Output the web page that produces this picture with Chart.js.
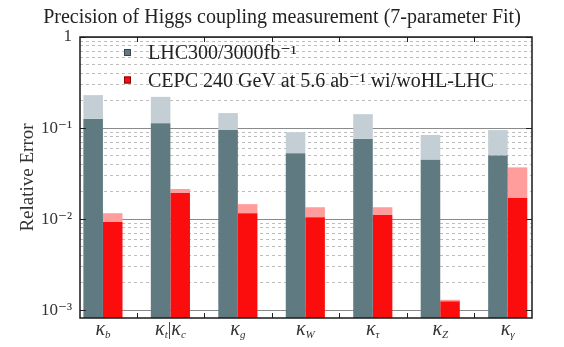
<!DOCTYPE html>
<html>
<head>
<meta charset="utf-8">
<script src="https://cdn.jsdelivr.net/npm/chart.js@4.4.0/dist/chart.umd.min.js"></script>
<style>
  html, body { margin: 0; padding: 0; background: #fff; }
  canvas { display: block; }
</style>
</head>
<body>
<canvas id="mycanvas" width="564" height="347"></canvas>
<script>
// kappa subscripts, "t|c" means kappa_t for LHC and kappa_c for CEPC
const categories = ['b', 't|c', 'g', 'W', 'τ', 'Z', 'γ'];

// LHC relative errors: 3000 fb-1 (dark) and 300 fb-1 (light top)
const lhc3000 = [0.126, 0.113, 0.095, 0.053, 0.076, 0.045, 0.050];
const lhc300  = [0.230, 0.220, 0.146, 0.090, 0.142, 0.084, 0.095];

// CEPC relative errors: with HL-LHC (dark) and without (light top)
const cepcWi = [0.0093, 0.0193, 0.0116, 0.0105, 0.0111, 0.00125, 0.0170];
const cepcWo = [0.0116, 0.0214, 0.0146, 0.0135, 0.0135, 0.00130, 0.0370];

const yTickValues = [1, 0.1, 0.01, 0.001];
const yTickLabels = ['1', '10⁻¹', '10⁻²', '10⁻³'];
const seriesLabels = ['LHC300/3000fb⁻¹', 'CEPC 240 GeV at 5.6 ab⁻¹ wi/woHL-LHC'];

const SERIF = '"Liberation Serif", "DejaVu Serif", serif';
const GRAY = '#607a82';
const GRAY_LIGHT = '#c3cfd4';
const RED = '#fb0d0d';
const RED_LIGHT = '#ff9d9d';

function isMajor(v) {
  return yTickValues.some(t => Math.abs(v - t) / t < 1e-6);
}

// every 1..9 x decade for the log grid
const gridValues = [];
yTickValues.forEach(d => {
  for (let m = 1; m <= 9; m++) {
    if (m * d <= 1.0000001) gridValues.push(m * d);
  }
});

const points = arr => arr.map((v, i) => ({x: i, y: v}));
const ranges = (lo, hi) => lo.map((v, i) => ({x: i, y: [v, hi[i]]}));

const decorations = {
  id: 'decorations',
  afterDatasetsDraw(chart) {
    const {ctx, chartArea: a, scales: {x, y}} = chart;
    ctx.save();

    // small inner ticks
    ctx.strokeStyle = '#222';
    ctx.lineWidth = 1;
    ctx.beginPath();
    yTickValues.forEach(v => {
      const py = Math.round(y.getPixelForValue(v)) + 0.5;
      ctx.moveTo(a.left, py); ctx.lineTo(a.left + 6, py);
      ctx.moveTo(a.right, py); ctx.lineTo(a.right - 6, py);
    });
    for (let i = 0; i < categories.length - 1; i++) {
      const px = Math.round(x.getPixelForValue(i + 0.5)) + 0.5;
      ctx.moveTo(px, a.bottom); ctx.lineTo(px, a.bottom - 5);
      ctx.moveTo(px, a.top); ctx.lineTo(px, a.top + 5);
    }
    ctx.stroke();

    // frame
    ctx.lineWidth = 1.5;
    ctx.strokeStyle = '#1a1a1a';
    ctx.strokeRect(a.left, a.top, a.right - a.left, a.bottom - a.top);

    // legend
    const markers = [[GRAY, '#39474c'], [RED, '#8a0000']];
    ctx.font = '20px ' + SERIF;
    ctx.textBaseline = 'middle';
    ctx.textAlign = 'left';
    seriesLabels.forEach((label, i) => {
      const cy = a.top + 16 + i * 27.5;
      const mx = a.left + 44;
      ctx.fillStyle = markers[i][0];
      ctx.fillRect(mx, cy - 4, 7, 7);
      ctx.strokeStyle = markers[i][1];
      ctx.lineWidth = 1;
      ctx.strokeRect(mx + 0.5, cy - 3.5, 6, 6);
      ctx.fillStyle = '#222';
      ctx.fillText(label, a.left + 68, cy + 1);
    });

    // kappa labels under the axis
    const bigFont = 'italic 20px ' + SERIF;
    const subFont = 'italic 11px ' + SERIF;
    const ly = a.bottom + 12;
    ctx.textBaseline = 'middle';
    categories.forEach((cat, i) => {
      const parts = cat.split('|');
      const pieces = [];
      parts.forEach((s, k) => {
        if (k > 0) pieces.push({t: '|', f: '18px ' + SERIF, dy: 0});
        pieces.push({t: 'κ', f: bigFont, dy: 0});
        pieces.push({t: s, f: subFont, dy: 5});
      });
      let w = 0;
      pieces.forEach(p => { ctx.font = p.f; p.w = ctx.measureText(p.t).width; w += p.w; });
      let cx = x.getPixelForValue(i) - w / 2;
      ctx.fillStyle = '#333';
      pieces.forEach(p => {
        ctx.font = p.f;
        ctx.fillText(p.t, cx, ly + p.dy);
        cx += p.w;
      });
    });

    ctx.restore();
  }
};

const ctx = document.getElementById('mycanvas').getContext('2d');
new Chart(ctx, {
  type: 'bar',
  data: {
    datasets: [
      {label: seriesLabels[0], data: points(lhc3000), backgroundColor: GRAY, stack: 'lhc'},
      {label: 'LHC300', data: ranges(lhc3000, lhc300), backgroundColor: GRAY_LIGHT, stack: 'lhc'},
      {label: seriesLabels[1], data: points(cepcWi), backgroundColor: RED, stack: 'cepc'},
      {label: 'CEPC woHL-LHC', data: ranges(cepcWi, cepcWo), backgroundColor: RED_LIGHT, stack: 'cepc'}
    ]
  },
  options: {
    responsive: false,
    animation: false,
    devicePixelRatio: 1,
    layout: {padding: 0},
    datasets: {bar: {categoryPercentage: 0.58, barPercentage: 1.0, borderWidth: 0}},
    plugins: {
      legend: {display: false},
      tooltip: {enabled: false},
      title: {
        display: true,
        text: 'Precision of Higgs coupling measurement (7-parameter Fit)',
        color: '#222',
        font: {family: SERIF, size: 20, weight: 'normal'},
        padding: {top: 6, bottom: 7}
      }
    },
    scales: {
      x: {
        type: 'linear',
        min: -0.34,
        max: 6.36,
        offset: false,
        grid: {display: false},
        border: {display: false},
        ticks: {display: false},
        afterFit(s) { s.height = 29; }
      },
      y: {
        type: 'logarithmic',
        min: 0.00082,
        max: 1,
        stacked: false,
        afterBuildTicks(s) { s.ticks = gridValues.map(v => ({value: v})); },
        afterFit(s) { s.width = 80; },
        ticks: {
          autoSkip: false,
          padding: 8,
          color: '#333',
          font: {family: SERIF, size: 17},
          callback: v => {
            const k = yTickValues.findIndex(t => Math.abs(v - t) / t < 1e-6);
            return k >= 0 ? yTickLabels[k] : '';
          }
        },
        grid: {
          drawTicks: false,
          lineWidth: 1,
          color: c => (c.tick && isMajor(c.tick.value)) ? '#8a8a8a' : '#bdbdbd'
        },
        border: {
          display: false,
          dash: c => (c.tick && !isMajor(c.tick.value)) ? [3, 3] : []
        },
        title: {
          display: true,
          text: 'Relative Error',
          color: '#333',
          font: {family: SERIF, size: 19},
          padding: {top: 17, bottom: 0}
        }
      },
      // empty strip on the right so the title stays centred on the page
      yRight: {
        type: 'logarithmic',
        position: 'right',
        min: 0.00082,
        max: 1,
        grid: {display: false},
        border: {display: false},
        ticks: {display: false},
        afterFit(s) { s.width = 32; }
      }
    }
  },
  plugins: [decorations]
});
</script>
</body>
</html>
